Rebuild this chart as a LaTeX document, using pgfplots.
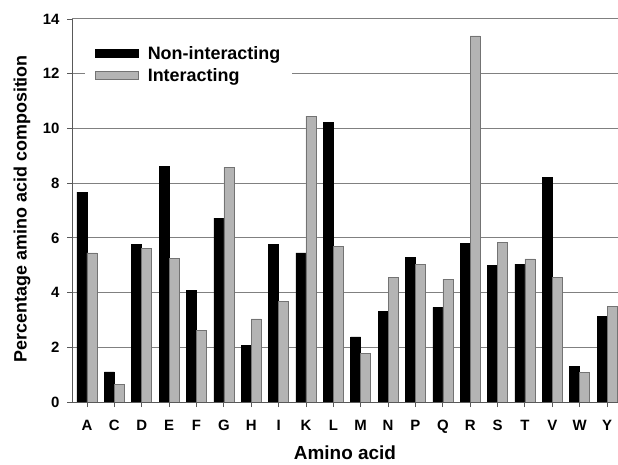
\documentclass[border=0pt]{standalone}
\usepackage{fontspec}
\setmainfont{Liberation Sans}
\usepackage{pgfplots}
\pgfplotsset{compat=1.18}
\definecolor{barGray}{HTML}{B4B4B4}
\definecolor{gridGray}{HTML}{808080}
\begin{document}
\begin{tikzpicture}
\begin{axis}[
  at={(0,0)}, anchor=south west,
  scale only axis, width=546bp, height=383bp,
  xmin=-0.548, xmax=19.40, ymin=0, ymax=14,
  ytick={0,2,...,14},
  xtick={0,...,19},
  xticklabels={A,C,D,E,F,G,H,I,K,L,M,N,P,Q,R,S,T,V,W,Y},
  axis x line*=bottom, axis y line*=left,
  axis line style={-, draw=black!65, line width=0.9pt},
  tick style={draw=black!65, line width=0.9pt},
  tick align=outside, major tick length=5bp,
  ymajorgrids, grid style={gridGray, line width=1pt},
  ybar=0pt, bar width=10bp,
  /pgf/number format/assume math mode=true,
  tick label style={font=\fontsize{15}{16}\selectfont\bfseries},
  xticklabel style={yshift=-10bp},
  yticklabel style={xshift=-4bp},
  every axis x label/.style={at={(axis description cs:0.5,-0.1514)}, anchor=base},
  every axis y label/.style={at={(axis description cs:-0.083,0.505)}, anchor=base, rotate=90},
  xlabel={\fontsize{19}{21}\selectfont\bfseries Amino acid},
  ylabel={\fontsize{18}{20}\selectfont\bfseries Percentage amino acid composition},
  legend style={at={(0.0238,0.945)}, anchor=north west, draw=none, fill=white,
    font=\fontsize{18}{20}\selectfont\bfseries, row sep=3.5bp, column sep=7bp,
    inner xsep=10bp, inner ysep=4bp},
  legend cell align=left,
  legend image code/.code={\draw[#1] (0bp,-4bp) rectangle (43bp,4bp);},
]
\addplot[fill=black, draw=black, line width=0.6pt] coordinates {
(0,7.67) (1,1.10) (2,5.76) (3,8.60) (4,4.07) (5,6.72) (6,2.07) (7,5.76) (8,5.45) (9,10.23)
(10,2.38) (11,3.30) (12,5.29) (13,3.46) (14,5.79) (15,4.99) (16,5.04) (17,8.20) (18,1.29) (19,3.12)};
\addplot[fill=barGray, draw=black!55, line width=0.6pt] coordinates {
(0,5.45) (1,0.63) (2,5.60) (3,5.24) (4,2.62) (5,8.58) (6,3.04) (7,3.67) (8,10.45) (9,5.69)
(10,1.79) (11,4.56) (12,5.02) (13,4.49) (14,13.38) (15,5.82) (16,5.23) (17,4.55) (18,1.07) (19,3.49)};
\legend{Non-interacting, Interacting}
\end{axis}
\pgfresetboundingbox
\path[use as bounding box] (-72bp,-63bp) rectangle (546bp,402bp);
\end{tikzpicture}
\end{document}
